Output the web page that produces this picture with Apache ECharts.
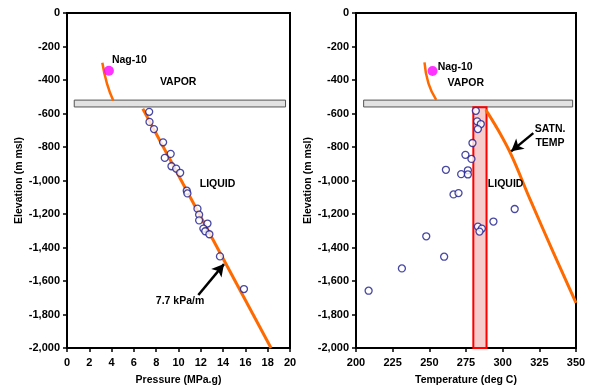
<!DOCTYPE html>
<html>
<head>
<meta charset="utf-8">
<script src="https://cdn.jsdelivr.net/npm/echarts@6/dist/echarts.min.js"></script>
<style>
  html, body { margin: 0; padding: 0; background: #fff; }
  #chart { width: 589px; height: 391px; }
</style>
</head>
<body>
<div id="chart"></div>
<script>
// measured pressure (MPa.g) vs elevation (m msl)
const pressureMPa = [7.37, 7.4, 7.8, 8.62, 9.3, 8.77, 9.37, 9.79, 10.15, 10.74, 10.8, 11.7, 11.85, 11.85, 12.6, 12.23, 12.4, 12.77, 13.72, 15.87];
const pressureElev = [-590, -650, -693, -772, -841, -865, -915, -929, -954, -1061, -1077, -1168, -1204, -1238, -1257, -1287, -1303, -1321, -1453, -1648];

// measured temperature (deg C) vs elevation
const tempC = [281.7, 282.6, 285.1, 283.1, 279.4, 274.6, 278.7, 261.3, 276.3, 271.7, 276.3, 266.5, 269.9, 308.2, 293.7, 283.1, 285.8, 284.2, 247.9, 260.1, 231.3, 208.6];
const tempElev = [-584, -647, -663, -693, -776, -847, -871, -936, -939, -962, -964, -1083, -1075, -1170, -1245, -1275, -1287, -1305, -1333, -1455, -1525, -1658];

// steam column above the boiling level
const vaporP = [[3.17, -297], [3.58, -420], [4.15, -523]];
const vaporT = [[246.7, -295], [249.4, -420], [254.7, -519]];

// 7.7 kPa/m liquid gradient
const liquidP = [[6.8, -572], [18.3, -2000]];

// saturation temperature curve
const satnT = [[288.5, -578], [297, -700], [306, -850], [318.7, -1113], [334.6, -1430], [350, -1730]];

// Nag-10 point
const nag10P = [3.76, -345];
const nag10T = [252.2, -346];

// two-phase zone (x0, x1, yTop, yBottom)
const boilLevelP = [0.65, 19.6, -520, -561];
const boilLevelT = [205.2, 347.7, -520, -561];
const liquidBandT = [280, 289, -562, -2000];

const FONT = "'Liberation Sans', Arial, sans-serif";
const ORANGE = "#ff6a00";

function zip(xs, ys) {
    return xs.map((x, i) => [x, ys[i]]);
}

function fmtElev(v) {
    return v.toLocaleString("en-US");
}

function band(b) {
    return [{ coord: [b[0], b[2]] }, { coord: [b[1], b[3]] }];
}

function note(text, x, y) {
    return {
        coord: [x, y],
        name: text,
        symbol: "circle",
        symbolSize: 1,
        itemStyle: { color: "transparent" },
        label: {
            show: true,
            position: "inside",
            formatter: "{b}",
            color: "#000",
            fontFamily: FONT,
            fontWeight: "bold",
            fontSize: 10.5,
            lineHeight: 14,
        },
    };
}

function arrow(from, to) {
    return {
        silent: true,
        symbol: ["none", "arrow"],
        symbolSize: [10, 12],
        lineStyle: { color: "#000", width: 2.5, type: "solid" },
        label: { show: false },
        data: [[{ coord: from }, { coord: to }]],
    };
}

const axisText = { color: "#000", fontFamily: FONT, fontWeight: "bold", fontSize: 11 };

function xAxisFor(idx, name, min, max, interval) {
    return {
        type: "value",
        gridIndex: idx,
        min: min,
        max: max,
        interval: interval,
        name: name,
        nameLocation: "middle",
        nameGap: 27,
        nameTextStyle: { color: "#000", fontFamily: FONT, fontWeight: "bold", fontSize: 10.5 },
        axisLine: { show: true, onZero: false, lineStyle: { color: "#000", width: 2 } },
        axisTick: { show: true, inside: false, length: 4, lineStyle: { color: "#000", width: 1.5 } },
        axisLabel: Object.assign({ margin: 9 }, axisText),
        splitLine: { show: false },
    };
}

function yAxisFor(idx) {
    return {
        type: "value",
        gridIndex: idx,
        min: -2000,
        max: 0,
        interval: 200,
        name: "Elevation (m msl)",
        nameLocation: "middle",
        nameGap: 42,
        nameTextStyle: { color: "#000", fontFamily: FONT, fontWeight: "bold", fontSize: 10.5 },
        axisLine: { show: true, onZero: false, lineStyle: { color: "#000", width: 2 } },
        axisTick: { show: true, inside: false, length: 4, lineStyle: { color: "#000", width: 1.5 } },
        axisLabel: Object.assign({ margin: 7, formatter: fmtElev }, axisText),
        splitLine: { show: false },
    };
}

const circleStyle = {
    color: "#fff",
    borderColor: "#1a1a8c",
    borderWidth: 1.3,
};

const option = {
    animation: false,
    backgroundColor: "#fff",
    grid: [
        { left: 67, top: 13, width: 223, height: 336, show: true, borderColor: "#000", borderWidth: 2 },
        { left: 356, top: 13, width: 220, height: 336, show: true, borderColor: "#000", borderWidth: 2 },
    ],
    xAxis: [
        xAxisFor(0, "Pressure (MPa.g)", 0, 20, 2),
        xAxisFor(1, "Temperature (deg C)", 200, 350, 25),
    ],
    yAxis: [yAxisFor(0), yAxisFor(1)],
    series: [
        // ---- pressure panel ----
        {
            name: "boil level P",
            type: "line",
            xAxisIndex: 0,
            yAxisIndex: 0,
            data: [],
            markArea: {
                silent: true,
                itemStyle: { color: "#e2e2e2", borderColor: "#555", borderWidth: 1 },
                data: [band(boilLevelP)],
            },
            z: 3,
        },
        {
            name: "vapor P",
            type: "line",
            xAxisIndex: 0,
            yAxisIndex: 0,
            data: vaporP,
            smooth: true,
            showSymbol: false,
            lineStyle: { color: ORANGE, width: 2.5 },
            z: 2,
        },
        {
            name: "liquid P",
            type: "line",
            xAxisIndex: 0,
            yAxisIndex: 0,
            data: liquidP,
            showSymbol: false,
            lineStyle: { color: ORANGE, width: 3 },
            z: 2,
            markLine: arrow([11.78, -1684], [14.08, -1499]),
            markPoint: {
                silent: true,
                data: [
                    note("Nag-10", 5.6, -283),
                    note("VAPOR", 9.97, -412),
                    note("LIQUID", 13.5, -1024),
                    note("7.7 kPa/m", 10.14, -1719),
                ],
            },
        },
        {
            name: "pressure",
            type: "scatter",
            xAxisIndex: 0,
            yAxisIndex: 0,
            data: zip(pressureMPa, pressureElev),
            symbol: "circle",
            symbolSize: 7,
            itemStyle: circleStyle,
            z: 4,
        },
        {
            name: "Nag-10 P",
            type: "scatter",
            xAxisIndex: 0,
            yAxisIndex: 0,
            data: [nag10P],
            symbolSize: 10,
            itemStyle: { color: "#ff00ff" },
            z: 5,
        },
        // ---- temperature panel ----
        {
            name: "boil level T",
            type: "line",
            xAxisIndex: 1,
            yAxisIndex: 1,
            data: [],
            markArea: {
                silent: true,
                itemStyle: { color: "#e2e2e2", borderColor: "#555", borderWidth: 1 },
                data: [band(boilLevelT)],
            },
            z: 3,
        },
        {
            name: "liquid band T",
            type: "line",
            xAxisIndex: 1,
            yAxisIndex: 1,
            data: [],
            markArea: {
                silent: true,
                itemStyle: { color: "#f6cccc", borderColor: "#ff0000", borderWidth: 2 },
                data: [band(liquidBandT)],
            },
            z: 1,
        },
        {
            name: "vapor T",
            type: "line",
            xAxisIndex: 1,
            yAxisIndex: 1,
            data: vaporT,
            smooth: true,
            showSymbol: false,
            lineStyle: { color: ORANGE, width: 2.5 },
            z: 2,
        },
        {
            name: "satn T",
            type: "line",
            xAxisIndex: 1,
            yAxisIndex: 1,
            data: satnT,
            smooth: 0.4,
            showSymbol: false,
            lineStyle: { color: ORANGE, width: 3 },
            z: 2,
            markLine: arrow([320.9, -717], [305.8, -826]),
            markPoint: {
                silent: true,
                data: [
                    note("Nag-10", 267.6, -321),
                    note("VAPOR", 274.8, -418),
                    note("LIQUID", 302, -1024),
                    note("SATN.\nTEMP", 332.3, -733),
                ],
            },
        },
        {
            name: "temperature",
            type: "scatter",
            xAxisIndex: 1,
            yAxisIndex: 1,
            data: zip(tempC, tempElev),
            symbol: "circle",
            symbolSize: 7,
            itemStyle: circleStyle,
            z: 4,
        },
        {
            name: "Nag-10 T",
            type: "scatter",
            xAxisIndex: 1,
            yAxisIndex: 1,
            data: [nag10T],
            symbolSize: 10,
            itemStyle: { color: "#ff00ff" },
            z: 5,
        },
    ],
};

const chart = echarts.init(document.getElementById("chart"), null, { renderer: "canvas" });
chart.setOption(option);
</script>
</body>
</html>
